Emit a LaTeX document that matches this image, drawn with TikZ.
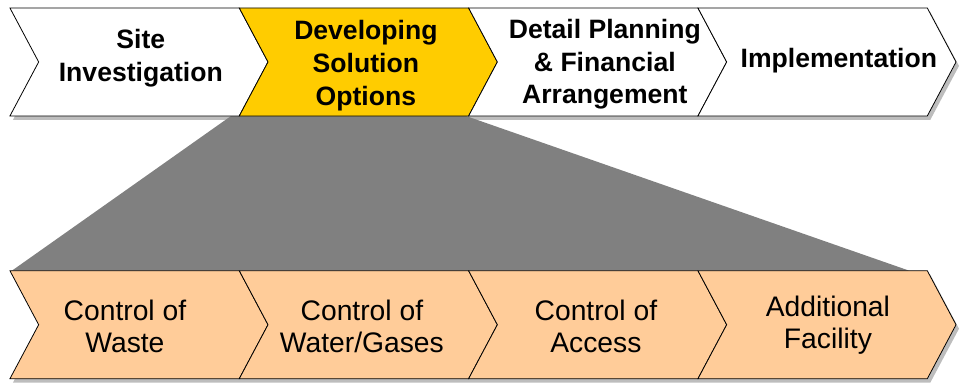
\documentclass[tikz,border=0pt]{standalone}
\usepackage{fontspec}
\setmainfont{Liberation Sans}
\definecolor{phaseyellow}{HTML}{FFCC00}
\definecolor{taskpeach}{HTML}{FFCC99}
\definecolor{funnelgray}{HTML}{808080}
\definecolor{shadowgray}{HTML}{BDBDBD}

\begin{document}
\begin{tikzpicture}[x=1pt, y=-1pt, line width=0.8pt,
    phase/.style={font=\fontsize{26.8}{33}\selectfont\bfseries, align=center},
    task/.style={font=\fontsize{28.5}{32}\selectfont, align=center}]
            \path  (0, 0) rectangle (959, 387);
            % shadows of the two rows
            \foreach \t in {8, 273} {
                    \fill[shadowgray] (13, \t+4) -- (938.2, \t+4) -- ++(29, 54.5) -- ++(-29, 54.5)
                        -- (13, \t+113) -- ++(29, -54.5) -- cycle;
            }
            % funnel
            \fill[funnelgray] (233, 117) -- (470, 117) -- (917, 273) -- (12, 273) -- cycle;
            % top row
            \foreach \i/\c in {0/white, 1/phaseyellow, 2/white, 3/white} {
                    \draw[fill=\c] (10+231.3*\i, 8) -- ++(231.3, 0) -- ++(29, 54.5) -- ++(-29, 54.5)
                        -- ++(-231.3, 0) -- ++(29, -54.5) -- cycle;
            }
            % bottom row
            \foreach \i in {0, ..., 3} {
                    \draw[fill=taskpeach] (10+231.3*\i, 273) -- ++(231.3, 0) -- ++(29, 54.5) -- ++(-29, 54.5)
                        -- ++(-231.3, 0) -- ++(29, -54.5) -- cycle;
            }
            \node[phase] (site) at (142, 59) {Site\\Investigation};
            \node[phase] (develop) at (369, 66) {Developing\\Solution\\Options};
            \node[phase] (detail) at (610, 65) {Detail Planning\\\& Financial\\Arrangement};
            \node[phase] (implement) at (846, 61) {Implementation};
            \node[task] (waste) at (126, 329) {Control of\\Waste};
            \node[task] (water) at (365, 329) {Control of\\Water/Gases};
            \node[task] (access) at (601, 329) {Control of\\Access};
            \node[task] (facility) at (835, 328) {Additional\\Facility};
    \end{tikzpicture}
\end{document}
